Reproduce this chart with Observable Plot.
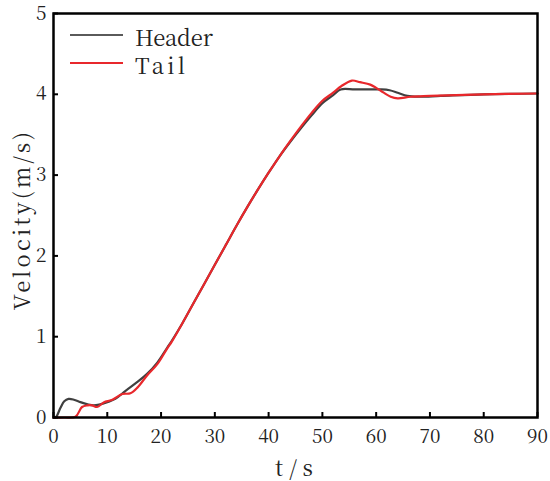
<!DOCTYPE html>
<html>
<head>
<meta charset="utf-8">
<script src="https://cdn.jsdelivr.net/npm/d3@7"></script>
<script src="https://cdn.jsdelivr.net/npm/@observablehq/plot@0.6"></script>
<style>
  html, body { margin: 0; padding: 0; background: #fff; }
  #chart { width: 550px; height: 481px; }
  #chart svg, #chart svg text { font-family: "Noto Serif CJK SC", "Liberation Serif", serif !important; }
</style>
</head>
<body>
<div id="chart"></div>
<script>
const headerT = [0, 0.4, 1.3, 2, 2.8, 3.8, 5, 6.5, 7.5, 8.5, 10, 11.5, 13.4, 15.6, 17.4, 19.3, 21.1, 22, 24, 26, 28, 30, 32, 34, 36, 38, 40, 42, 44, 46, 48, 50, 52, 53.4, 56, 59, 61, 62.5, 64, 65.8, 68, 72, 80, 90];
const headerV = [0, 0, 0.12, 0.2, 0.23, 0.22, 0.19, 0.16, 0.15, 0.16, 0.19, 0.23, 0.33, 0.44, 0.54, 0.68, 0.86, 0.95, 1.17, 1.41, 1.65, 1.89, 2.13, 2.37, 2.60, 2.82, 3.03, 3.23, 3.41, 3.58, 3.74, 3.89, 3.99, 4.06, 4.06, 4.06, 4.06, 4.05, 4.02, 3.98, 3.97, 3.98, 4.00, 4.01];

const tailT = [0, 2, 4.1, 5.3, 6.3, 7.2, 8.1, 9.4, 10.5, 11.2, 12.8, 14.3, 15.6, 17.4, 19.3, 21.1, 22, 24, 26, 28, 30, 32, 34, 36, 38, 40, 42, 44, 46, 48, 50, 52, 53.5, 55.5, 57, 58.9, 60, 61.4, 62.7, 64, 66.4, 70, 80, 90];
const tailV = [0, 0, 0.01, 0.13, 0.15, 0.15, 0.13, 0.19, 0.21, 0.23, 0.29, 0.30, 0.37, 0.52, 0.66, 0.85, 0.94, 1.17, 1.41, 1.65, 1.89, 2.13, 2.37, 2.60, 2.82, 3.03, 3.23, 3.42, 3.60, 3.77, 3.92, 4.02, 4.10, 4.17, 4.15, 4.12, 4.08, 4.02, 3.97, 3.95, 3.97, 3.98, 4.00, 4.01];

const seriesNames = ["Header", "Tail"];
const seriesColors = ["#404040", "#e8282c"];
const xTicks = [0, 10, 20, 30, 40, 50, 60, 70, 80, 90];
const yTicks = [0, 1, 2, 3, 4, 5];
const xTitle = "t/s";
const yTitle = "Velocity(m/s)";

const headerData = headerT.map((t, i) => ({t, v: headerV[i]}));
const tailData = tailT.map((t, i) => ({t, v: tailV[i]}));

const W = 550, H = 481, mL = 53, mR = 13, mT = 13, mB = 64;
const innerW = W - mL - mR, innerH = H - mT - mB;
const tickLen = 5;

const plot = Plot.plot({
  width: W,
  height: H,
  marginLeft: mL,
  marginRight: mR,
  marginTop: mT,
  marginBottom: mB,
  style: {background: "#fff", overflow: "visible"},
  x: {domain: [0, 90]},
  y: {domain: [0, 5]},
  marks: [
    Plot.line(headerData, {x: "t", y: "v", stroke: seriesColors[0], strokeWidth: 2.2, curve: "catmull-rom"}),
    Plot.line(tailData, {x: "t", y: "v", stroke: seriesColors[1], strokeWidth: 2.2, curve: "catmull-rom"}),
    Plot.ruleX(xTicks, {insetTop: innerH - tickLen, stroke: "#000", strokeWidth: 2}),
    Plot.ruleY(yTicks, {insetRight: innerW - tickLen, stroke: "#000", strokeWidth: 2}),
    Plot.axisX(xTicks, {tickSize: 0, tickPadding: 12, fontSize: 19, label: null, fill: "#222", tickFormat: d => String(d)}),
    Plot.axisY(yTicks, {tickSize: 0, tickPadding: 7, fontSize: 19, label: null, fill: "#222", tickFormat: d => String(d)}),
    Plot.frame({stroke: "#000", strokeWidth: 2.5})
  ]
});

document.getElementById("chart").appendChild(plot);

const svg = d3.select(plot);
function addText(sel, str, len) {
  return sel.append("text")
    .style("font-size", "22px").attr("fill", "#222")
    .attr("textLength", len).attr("lengthAdjust", "spacing")
    .text(str);
}
addText(svg, xTitle, 38)
  .attr("x", 294).attr("y", 466)
  .attr("text-anchor", "middle").attr("dominant-baseline", "central");
addText(svg, yTitle, 178)
  .attr("transform", "translate(20,221) rotate(-90)")
  .attr("text-anchor", "middle").attr("dominant-baseline", "central");

const legend = svg.append("g");
seriesNames.forEach((name, i) => {
  const y = 35 + i * 28;
  legend.append("line")
    .attr("x1", 70).attr("x2", 123).attr("y1", y).attr("y2", y)
    .attr("stroke", i === 0 ? "#5a5a5a" : seriesColors[1]).attr("stroke-width", 2);
  addText(legend, name, i === 0 ? 78 : 50)
    .attr("x", 135).attr("y", y + 1)
    .attr("text-anchor", "start")
    .attr("dominant-baseline", "central");
});
</script>
</body>
</html>
